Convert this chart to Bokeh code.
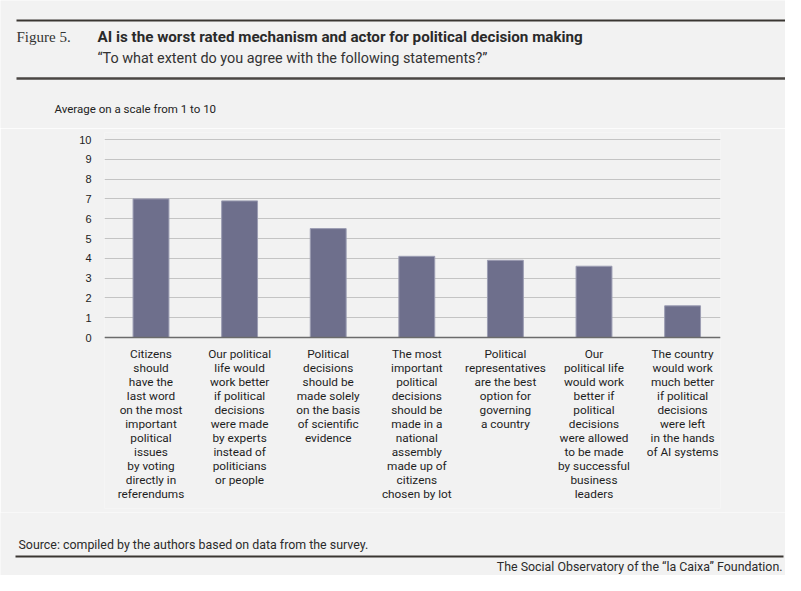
from bokeh.plotting import figure
from bokeh.layouts import column
from bokeh.models import Range1d, FixedTicker, Label, BoxAnnotation, Span
from bokeh.core.properties import value
from bokeh.embed import file_html
from bokeh.resources import INLINE

# ---- data ----
categories = [
    "Citizens\nshould\nhave the\nlast word\non the most\nimportant\npolitical\nissues\nby voting\ndirectly in\nreferendums",
    "Our political\nlife would\nwork better\nif political\ndecisions\nwere made\nby experts\ninstead of\npoliticians\nor people",
    "Political\ndecisions\nshould be\nmade solely\non the basis\nof scientific\nevidence",
    "The most\nimportant\npolitical\ndecisions\nshould be\nmade in a\nnational\nassembly\nmade up of\ncitizens\nchosen by lot",
    "Political\nrepresentatives\nare the best\noption for\ngoverning\na country",
    "Our\npolitical life\nwould work\nbetter if\npolitical\ndecisions\nwere allowed\nto be made\nby successful\nbusiness\nleaders",
    "The country\nwould work\nmuch better\nif political\ndecisions\nwere left\nin the hands\nof AI systems",
]
values = [7.0, 6.9, 5.5, 4.1, 3.9, 3.6, 1.6]
y_ticks = [0, 1, 2, 3, 4, 5, 6, 7, 8, 9, 10]

fig_label = "Figure 5."
title = "AI is the worst rated mechanism and actor for political decision making"
subtitle = "\u201cTo what extent do you agree with the following statements?\u201d"
y_title = "Average on a scale from 1 to 10"
source = "Source: compiled by the authors based on data from the survey."
footer = "The Social Observatory of the \u201cla Caixa\u201d Foundation."

# ---- layout constants (page pixels) ----
W = 785
HEAD_H = 128
CHART_TOP, CHART_BOT = 128, 512
FOOT_H = 575 - CHART_BOT
BG = "#f2f2f2"
BAR = "#6e6f8c"
TXT = "#2b2b2b"


def deco_fig(h, y0):
    f = figure(width=W, height=h, output_backend="svg", toolbar_location=None,
               x_range=Range1d(0, W), y_range=Range1d(y0 + h, y0),
               min_border=0, min_border_left=0, min_border_right=0,
               min_border_top=0, min_border_bottom=0, frame_align=False)
    f.axis.visible = False
    f.grid.visible = False
    f.background_fill_color = BG
    f.border_fill_color = BG
    f.outline_line_color = None
    return f


def lab(f, text, X, Y, size, font="Roboto", color=TXT, align="left", style="normal"):
    f.add_layout(Label(x=X, y=Y, text=text, text_font=font, text_font_size=size,
                       text_color=color, text_align=align, text_baseline="middle",
                       text_font_style=style))


def rule(f, x0, x1, y, t, color):
    f.add_layout(BoxAnnotation(left=x0, right=x1, top=y - t / 2, bottom=y + t / 2,
                               fill_color=color, fill_alpha=1, line_color=None))


# ---- header ----
head = deco_fig(HEAD_H, 0)
rule(head, 16, W, 20, 1.8, "#3a3632")
lab(head, fig_label, 16, 36, "15px", font="Liberation Serif", color="#333333")
lab(head, title, 97, 36, "15.2px", color="#2a2a2a", style="bold")
lab(head, subtitle, 97, 58, "14.4px", color="#333333")
rule(head, 16, W, 78, 2.5, "#4a4643")
lab(head, y_title, 54, 108, "11.5px", font="Roboto", color="#222222")

# ---- chart ----
FL, FR = 104, 720
FT, FB = 132, 508          # frame top / bottom in page px
ZERO_PX = 337              # page y of value 0
PPU = 19.8                 # pixels per unit
x_ppu = 88.6
x0 = 0.5 - (150.5 - FL) / x_ppu

chart = figure(width=W, height=CHART_BOT - CHART_TOP, output_backend="svg", toolbar_location=None,
               x_range=Range1d(x0, x0 + (FR - FL) / x_ppu),
               y_range=Range1d(-(FB - ZERO_PX) / PPU, (ZERO_PX - FT) / PPU),
               min_border_left=FL, min_border_right=W - FR,
               min_border_top=FT - CHART_TOP, min_border_bottom=CHART_BOT - FB,
               frame_align=False)
chart.background_fill_color = BG
chart.border_fill_color = BG
chart.outline_line_color = None

xs = [i + 0.5 for i in range(len(values))]
chart.vbar(x=xs, top=values, width=0.405, fill_color=BAR, line_color="#9c9db3", line_width=1)

chart.xaxis.visible = False
chart.xgrid.visible = False
chart.ygrid.ticker = FixedTicker(ticks=y_ticks)
chart.ygrid.grid_line_color = "#c4c4c4"
chart.ygrid.grid_line_width = 1

ya = chart.yaxis[0]
ya.ticker = FixedTicker(ticks=y_ticks)
ya.axis_line_color = None
ya.major_tick_line_color = None
ya.minor_tick_line_color = None
ya.major_tick_out = 0
ya.major_tick_in = 0
ya.minor_tick_out = 0
ya.minor_tick_in = 0
ya.major_label_standoff = 13
ya.major_label_text_font = "Liberation Sans"
ya.major_label_text_font_size = "11px"
ya.major_label_text_color = "#222222"

chart.add_layout(Span(location=0, dimension="width", line_color="#6b6b6b", line_width=1.5))

label_y = -(346 - ZERO_PX) / PPU
chart.text(x=xs, y=[label_y] * len(xs), text=categories,
           text_font=value("Roboto"), text_font_size="11.8px", text_color="#1e1e1e",
           text_align="center", text_baseline="top", text_line_height=1.0)

# ---- footer ----
foot = deco_fig(FOOT_H, CHART_BOT)
lab(foot, source, 18, 544, "12.4px")
rule(foot, 15, 783, 556, 2, "#3a3632")
lab(foot, footer, 782, 566, "12.4px", align="right")

layout = column(head, chart, foot, spacing=0)
open("out.html", "w").write(file_html(layout, INLINE))
